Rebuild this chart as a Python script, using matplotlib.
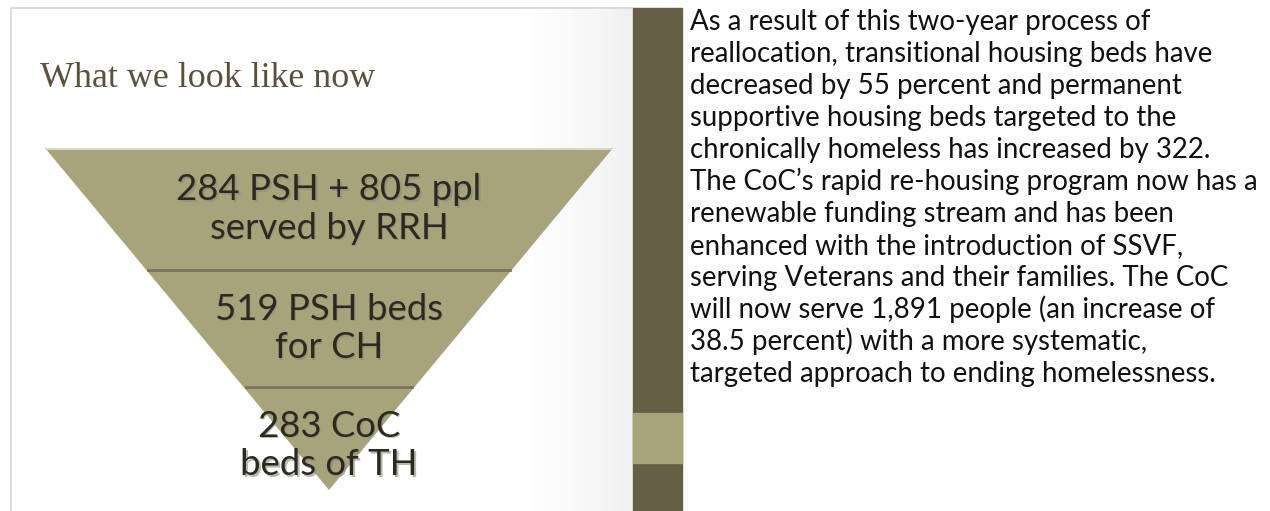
import numpy as np
import matplotlib
matplotlib.use("Agg")
import matplotlib.pyplot as plt
from matplotlib.patches import Polygon, Rectangle

# funnel content, top to bottom
tier_labels = ["284 PSH + 805 ppl\nserved by RRH", "519 PSH beds\nfor CH", "283 CoC\nbeds of TH"]
tier_bounds = [0.0, 0.357, 0.699, 1.0]   # fraction of funnel height where each tier starts/ends

title = "What we look like now"
body_lines = [
    "As a result of this two-year process of",
    "reallocation, transitional housing beds have",
    "decreased by 55 percent and permanent",
    "supportive housing beds targeted to the",
    "chronically homeless has increased by 322.",
    "The CoC\u2019s rapid re-housing program now has a",
    "renewable funding stream and has been",
    "enhanced with the introduction of SSVF,",
    "serving Veterans and their families. The CoC",
    "will now serve 1,891 people (an increase of",
    "38.5 percent) with a more systematic,",
    "targeted approach to ending homelessness.",
]

W, H = 1270, 511
fig = plt.figure(figsize=(W / 100, H / 100), dpi=100)
ax = fig.add_axes([0, 0, 1, 1])
ax.set_xlim(0, W)
ax.set_ylim(H, 0)
ax.axis("off")
renderer = fig.canvas.get_renderer()

def fit_size(s, family, target_px, ref=20):
    t = ax.text(0, 0, s, family=family, fontsize=ref)
    w = t.get_window_extent(renderer).width
    t.remove()
    return ref * target_px / w

khaki = "#a7a37b"
dark = "#675e46"

# slide background with soft gray gradient on the right
grad = np.linspace(0, 1, 256)
grad = np.clip((grad - 0.8) / 0.2, 0, 1) ** 1.5
ax.imshow(np.vstack([grad] * 4), extent=[11, 633, H, 8], cmap="Greys",
          vmin=0, vmax=8, aspect="auto", zorder=0)
ax.plot([11, 11, 633], [H, 8, 8], color="#d6d6d6", lw=1.2, zorder=1)

# side bar
ax.add_patch(Rectangle((633, 8), 49, H - 8, color=dark, zorder=1))
ax.add_patch(Rectangle((633, 413), 49, 50, color=khaki, zorder=2))

# title
ts = fit_size(title, "Liberation Serif", 335)
ax.text(40, 87, title, family="Liberation Serif", fontsize=ts, color="#5a503c",
        va="baseline", ha="left", zorder=3)

# funnel
top_y, apex_y = 148, 490
left_x, right_x = 45, 613
cx = (left_x + right_x) / 2
half_w = (right_x - left_x) / 2

def half_width_at(f):
    return half_w * (1 - f)

ax.add_patch(Polygon([[left_x, top_y], [right_x, top_y], [cx, apex_y]],
                     closed=True, facecolor=khaki, edgecolor="none", zorder=2))
ax.plot([left_x + 2, right_x - 2], [top_y + 1, top_y + 1], color="#d8d6c4", lw=1.5, zorder=3)

fh = apex_y - top_y
for f in tier_bounds[1:-1]:
    y = top_y + f * fh
    hw = half_width_at(f)
    ax.plot([cx - hw + 2, cx + hw - 2], [y, y], color="#7b7559", lw=2, zorder=3)

fs = fit_size(tier_labels[0].split("\n")[0], "Lato", 305)
for i, lab in enumerate(tier_labels):
    f0, f1 = tier_bounds[i], tier_bounds[i + 1]
    y = top_y + (f0 + f1) / 2 * fh
    if i == len(tier_labels) - 1:
        y += 7
    ax.text(cx + 1.5, y + 1.5, lab, family="Lato", fontsize=fs, color="#8a8a7a",
            ha="center", va="center", linespacing=1.2, zorder=3, alpha=0.6)
    ax.text(cx, y, lab, family="Lato", fontsize=fs, color="#2c2a20",
            ha="center", va="center", linespacing=1.2, zorder=4)

# body text
bs = fit_size(body_lines[5], "Lato", 568)
for i, line in enumerate(body_lines):
    ax.text(690, 30 + i * 32, line, family="Lato", fontsize=bs, color="#111111",
            ha="left", va="baseline", zorder=4)

fig.savefig("out.png", dpi=100)
